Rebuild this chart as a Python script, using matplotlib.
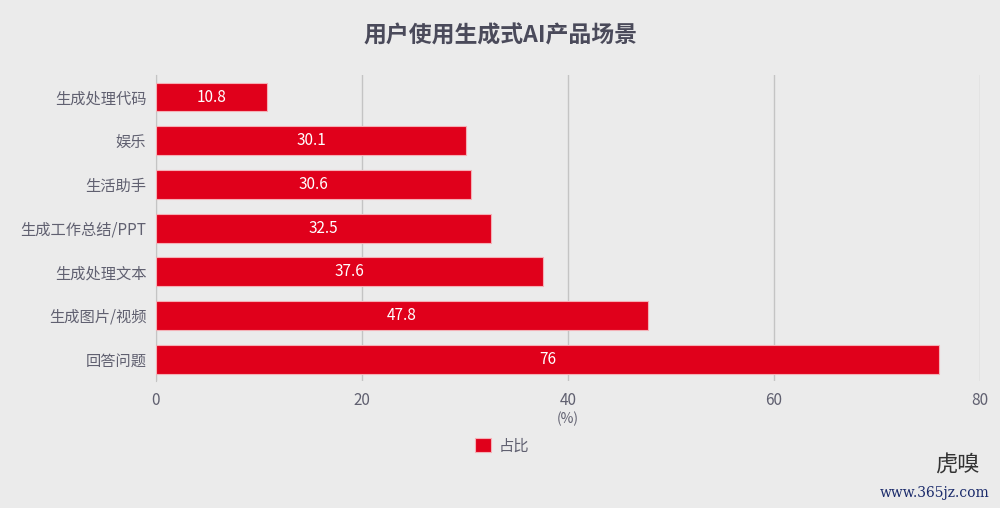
import matplotlib
matplotlib.use("Agg")
import matplotlib.pyplot as plt

plt.rcParams['font.family'] = ['Noto Sans CJK SC', 'DejaVu Sans']

categories = ["生成处理代码", "娱乐", "生活助手", "生成工作总结/PPT", "生成处理文本", "生成图片/视频", "回答问题"]
values = [10.8, 30.1, 30.6, 32.5, 37.6, 47.8, 76]
value_labels = ["10.8", "30.1", "30.6", "32.5", "37.6", "47.8", "76"]
xticks = [0, 20, 40, 60, 80]
title = "用户使用生成式AI产品场景"
legend_label = "占比"
x_label = "(%)"

bg = "#ebebeb"
red = "#e0001b"
text_col = "#606070"

fig = plt.figure(figsize=(10, 5.08), dpi=100, facecolor=bg)
ax = fig.add_axes([0.156, 0.25, 0.824, 0.602], facecolor=bg)

ypos = list(range(len(categories)))
bars = ax.barh(ypos, values, height=0.66, color=red, edgecolor="#f4b0b6",
               linewidth=0.8, zorder=3, label=legend_label)
for y, v, lab in zip(ypos, values, value_labels):
    ax.text(v / 2, y, lab, ha="center", va="center", color="white",
            fontsize=11, zorder=4)

ax.set_ylim(len(categories) - 0.5, -0.5)
ax.set_xlim(0, 80)
ax.set_xticks(xticks)
ax.set_xticklabels([str(t) for t in xticks])
ax.set_yticks(ypos)
ax.set_yticklabels(categories)
ax.tick_params(axis="y", length=0, pad=7, labelsize=11, labelcolor=text_col)
ax.tick_params(axis="x", length=0, pad=8, labelsize=11, labelcolor=text_col)
ax.grid(axis="x", color="#c4c4c4", linewidth=1, zorder=0)
for s in ["top", "right", "bottom"]:
    ax.spines[s].set_visible(False)
ax.spines["left"].set_color("#c4c4c4")
ax.set_xlabel(x_label, color=text_col, fontsize=10, labelpad=2)

leg = ax.legend(loc="upper center", bbox_to_anchor=(0.42, -0.14), frameon=False,
                fontsize=11, handlelength=1.0, handleheight=1.0, handletextpad=0.5)
for t in leg.get_texts():
    t.set_color(text_col)

fig.text(0.5, 0.93, title, ha="center", va="center", fontsize=16.5,
         fontweight="bold", color="#4a4a5a")

fig.text(0.957, 0.085, "虎嗅", ha="center", va="center", fontsize=16,
         color="#333333", family=["Noto Sans CJK SC", "DejaVu Sans"])
fig.text(0.935, 0.03, "www.365jz.com", ha="center", va="center", fontsize=10,
         color="#1a2a6a", family=["DejaVu Serif"])

fig.savefig("out.png", dpi=100, facecolor=bg)
